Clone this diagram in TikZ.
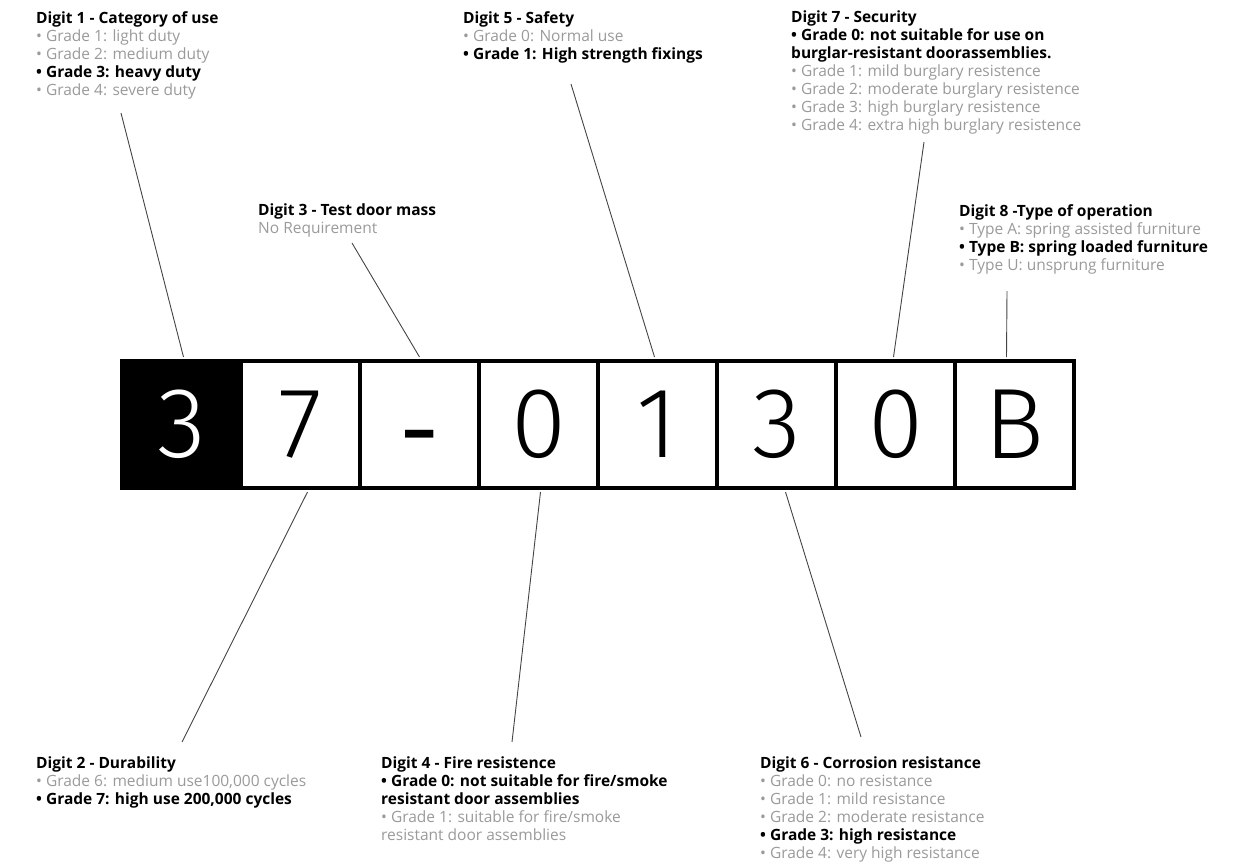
\documentclass[tikz,border=0pt]{standalone}
\usepackage{fontspec}
\setmainfont{Open Sans}
\newfontfamily\digitfont{Fira Sans Light}
\newfontfamily\dashfont{Fira Sans}
\usepackage{tikz}
\usetikzlibrary{calc,positioning}
\definecolor{softgray}{HTML}{9A9A9A}
\definecolor{linkgray}{HTML}{444444}
\newcommand{\gr}[1]{{\color{softgray}#1}}

\begin{document}
\begin{tikzpicture}[x=1pt,y=-1pt,
    cell/.style={draw=black, line width=4pt, minimum width=119pt, minimum height=127pt,
      inner sep=0pt, font=\digitfont\fontsize{100}{100}\selectfont},
    info/.style={anchor=north west, inner sep=0pt, align=left, font=\fontsize{15.5}{18}\selectfont},
    link/.style={draw=linkgray, line width=0.9pt}]
        \useasboundingbox (0,0) rectangle (1239,863);
        \def\w{119}
        %Cells
        \node[cell, fill=black, text=white] (c1) at (122+0.5*\w,424.5) {3};
        \foreach \d [count=\i from 2] in {7,{\vphantom{0}\raisebox{-14pt}{\dashfont -}},0,1,3,0,B}
          \node[cell] (c\i) at (122+\w*\i-0.5*\w,424.5) {\d};
        %Texts above
        \node[info] (d1) at (36,11) {\textbf{Digit 1 - Category of use}\\
          \gr{• Grade 1: light duty}\\ \gr{• Grade 2: medium duty}\\
          \textbf{• Grade 3: heavy duty}\\ \gr{• Grade 4: severe duty}};
        \node[info] (d3) at (258,204) {\textbf{Digit 3 - Test door mass}\\
          \gr{No Requirement}};
        \node[info] (d5) at (463,11) {\textbf{Digit 5 - Safety}\\
          \gr{• Grade 0: Normal use}\\ \textbf{• Grade 1: High strength fixings}};
        \node[info] (d7) at (791,11) {\textbf{Digit 7 - Security}\\
          \textbf{• Grade 0: not suitable for use on}\\
          \textbf{burglar-resistant doorassemblies.}\\
          \gr{• Grade 1: mild burglary resistence}\\
          \gr{• Grade 2: moderate burglary resistence}\\
          \gr{• Grade 3: high burglary resistence}\\
          \gr{• Grade 4: extra high burglary resistence}};
        \node[info] (d8) at (959,204) {\textbf{Digit 8 -Type of operation}\\
          \gr{• Type A: spring assisted furniture}\\
          \textbf{• Type B: spring loaded furniture}\\
          \gr{• Type U: unsprung furniture}};
        %Texts below
        \node[info] (d2) at (36,757) {\textbf{Digit 2 - Durability}\\
          \gr{• Grade 6: medium use100,000 cycles}\\
          \textbf{• Grade 7: high use 200,000 cycles}};
        \node[info] (d4) at (381,757) {\textbf{Digit 4 - Fire resistence}\\
          \textbf{• Grade 0: not suitable for fire/smoke}\\
          \textbf{resistant door assemblies}\\
          \gr{• Grade 1: suitable for fire/smoke}\\
          \gr{resistant door assemblies}};
        \node[info] (d6) at (760,757) {\textbf{Digit 6 - Corrosion resistance}\\
          \gr{• Grade 0: no resistance}\\ \gr{• Grade 1: mild resistance}\\
          \gr{• Grade 2: moderate resistance}\\ \textbf{• Grade 3: high resistance}\\
          \gr{• Grade 4: very high resistance}};
        %Free ends of the links
        \coordinate (p1) at (121,113);
        \coordinate (p3) at (352,243);
        \coordinate (p5) at (571,84);
        \coordinate (p7) at (924,142);
        \coordinate (p8) at (1007,291);
        \coordinate (p2) at (182,742);
        \coordinate (p4) at (512,742);
        \coordinate (p6) at (861,737);
        %Links
        \draw[link] (p1) -- ($(c1.north)+(2,-2)$);
        \draw[link] (p3) -- ($(c3.north)+(0,-2)$);
        \draw[link] (p5) -- ($(c5.north)+(-3,-2)$);
        \draw[link] (p7) -- ($(c7.north)+(-2,-2)$);
        \draw[link] (p8) -- ($(c8.north)+(-8,-2)$);
        \draw[link] (p2) -- ($(c2.south)+(7,2)$);
        \draw[link] (p4) -- ($(c4.south)+(2,2)$);
        \draw[link] (p6) -- ($(c6.south)+(9,2)$);
      \end{tikzpicture}
\end{document}
